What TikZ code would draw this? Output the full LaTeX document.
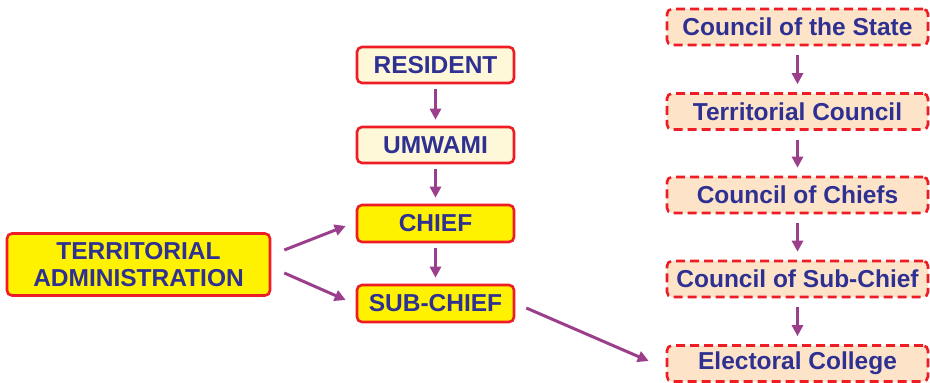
\documentclass[tikz,border=0pt]{standalone}
\usepackage{fontspec}
\setmainfont{Liberation Sans}
\usetikzlibrary{arrows.meta}
\definecolor{bordred}{HTML}{EE1C24}
\definecolor{txtblue}{HTML}{2E3192}
\definecolor{yel}{HTML}{FFF200}
\definecolor{cream}{HTML}{FFF8D8}
\definecolor{peach}{HTML}{FDE3C8}
\definecolor{arrpurple}{HTML}{9B3F8C}
\tikzset{
  basebox/.style={draw=bordred, line width=2.6pt, rounded corners=5pt, text=txtblue,
    font=\fontsize{24.5}{27}\selectfont\bfseries, align=center, inner sep=0pt},
  yelbox/.style={basebox, fill=yel, minimum width=157pt, minimum height=37pt},
  creambox/.style={basebox, fill=cream, minimum width=157pt, minimum height=36pt},
  dashbox/.style={basebox, fill=peach, dash pattern=on 9pt off 5pt, minimum width=261pt, minimum height=36pt},
  arr/.style={draw=arrpurple, line width=3pt, -{Triangle[length=11pt,width=11pt]}}
}
\begin{document}
\begin{tikzpicture}[x=1pt,y=-1pt]
\useasboundingbox (0,0) rectangle (930,383);
\node[yelbox, minimum width=263pt, minimum height=62pt] (TA) at (138.5,264.5) {TERRITORIAL\\ADMINISTRATION};
\node[creambox] (RES) at (435.5,65) {RESIDENT};
\node[creambox] (UMW) at (435.5,145) {UMWAMI};
\node[yelbox] (CHF) at (435.5,223.5) {CHIEF};
\node[yelbox] (SUB) at (435.5,303.5) {SUB-CHIEF};
\node[dashbox] (CS) at (797.5,27) {Council of the State};
\node[dashbox] (TC) at (797.5,111.5) {Territorial Council};
\node[dashbox] (CC) at (797.5,195) {Council of Chiefs};
\node[dashbox] (CSC) at (797.5,279) {Council of Sub-Chief};
\node[dashbox] (EC) at (797.5,363.5) {Electoral College};
\draw[arr, shorten <=5pt, shorten >=6pt] (RES) -- (UMW);
\draw[arr, shorten <=5pt, shorten >=6pt] (UMW) -- (CHF);
\draw[arr, shorten <=5pt, shorten >=6pt] (CHF) -- (SUB);
\draw[arr, shorten <=9pt, shorten >=8pt] (CS) -- (TC);
\draw[arr, shorten <=9pt, shorten >=8pt] (TC) -- (CC);
\draw[arr, shorten <=9pt, shorten >=8pt] (CC) -- (CSC);
\draw[arr, shorten <=9pt, shorten >=8pt] (CSC) -- (EC);
\draw[arr] ([xshift=13pt,yshift=14.5pt]TA.east) -- ([xshift=-10pt,yshift=-2.5pt]CHF.west);
\draw[arr] ([xshift=13pt,yshift=-8.5pt]TA.east) -- ([xshift=-10pt,yshift=3.5pt]SUB.west);
\draw[arr] ([xshift=11pt,yshift=-4.5pt]SUB.east) -- ([xshift=-17pt,yshift=2.5pt]EC.west);
\end{tikzpicture}
\end{document}
